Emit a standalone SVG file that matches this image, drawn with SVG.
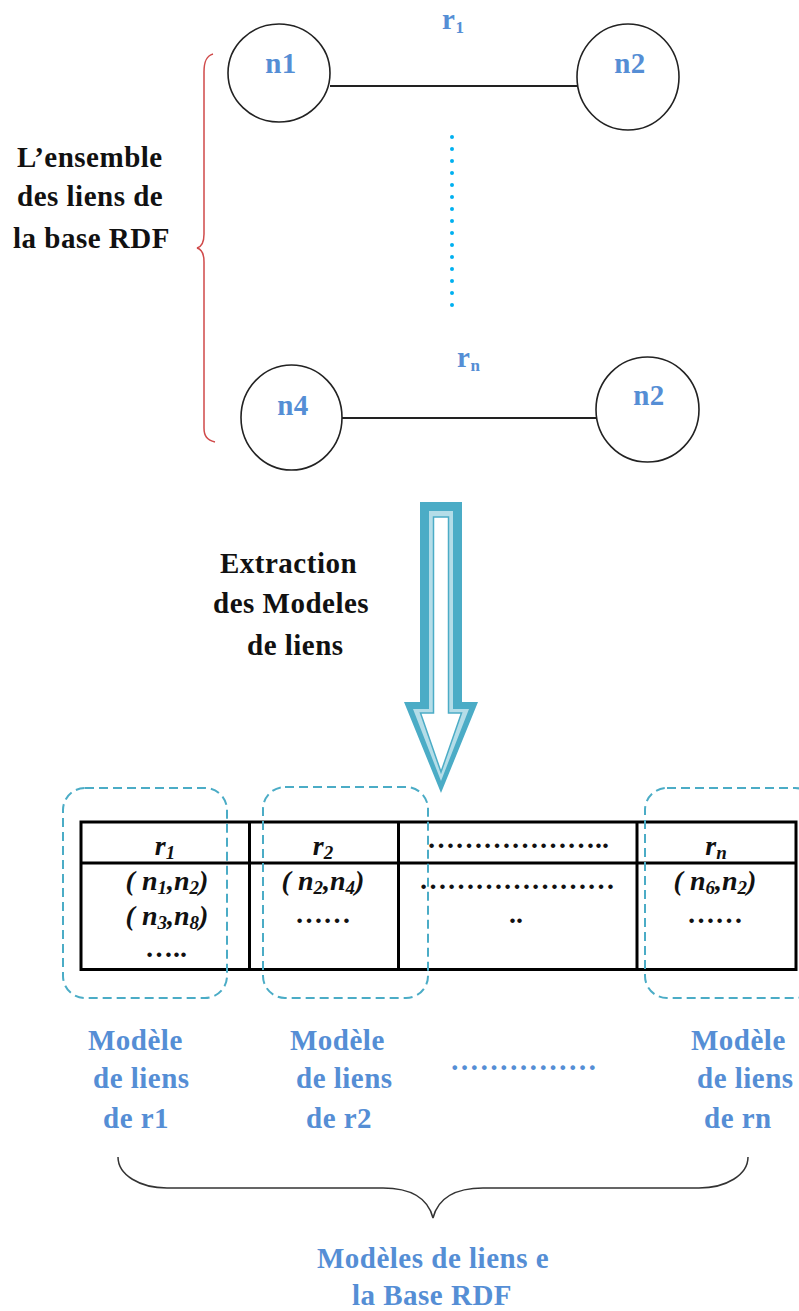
<svg xmlns="http://www.w3.org/2000/svg" width="799" height="1311" viewBox="0 0 799 1311">
  <style>
    .bg { fill: #ffffff; }
    .node { fill: none; stroke: #222222; stroke-width: 1.6; }
    .edge { stroke: #222222; stroke-width: 1.8; fill: none; }
    .lbl { font-family: "Liberation Serif", "Times New Roman", serif; font-weight: bold; font-size: 29px; letter-spacing: 0.5px; }
    .blue { fill: #558ED5; }
    .dark { fill: #111111; }
    .cell { font-family: "Liberation Serif", "Times New Roman", serif; font-weight: bold; font-style: italic; font-size: 28px; fill: #111111; }
    .dots { font-family: "Liberation Serif", "Times New Roman", serif; font-weight: bold; font-size: 28px; fill: #111111; }
    .grid { stroke: #000000; stroke-width: 3; fill: none; }
    .group { fill: none; stroke: #4BACC6; stroke-width: 2; stroke-dasharray: 9 5; }
    .brace { fill: none; stroke-width: 1.5; }
  </style>

  <rect class="bg" x="0" y="0" width="799" height="1311"/>

  <!-- connectors: relation edges, dotted continuation -->
  <g id="connectors">
    <line class="edge" x1="330" y1="86" x2="577" y2="86"/>
    <line class="edge" x1="342" y1="418" x2="597" y2="418"/>
    <line x1="452" y1="137" x2="452" y2="307" stroke="#00B0F0" stroke-width="4" stroke-linecap="round" stroke-dasharray="0 12"/>
  </g>

  <!-- first relation r1 -->
  <g id="node-n1">
    <ellipse class="node" cx="279" cy="73" rx="51" ry="49"/>
    <text class="lbl blue" x="281" y="73" text-anchor="middle">n1</text>
  </g>
  <g id="node-n2-top">
    <ellipse class="node" cx="628" cy="77" rx="51" ry="53"/>
    <text class="lbl blue" x="630" y="73" text-anchor="middle">n2</text>
  </g>
  <g id="label-r1">
    <text class="lbl blue" x="442" y="29">r<tspan font-size="17" dy="4">1</tspan></text>
  </g>

  <!-- last relation rn -->
  <g id="node-n4">
    <ellipse class="node" cx="291.5" cy="417.5" rx="50.5" ry="52.5"/>
    <text class="lbl blue" x="293" y="415" text-anchor="middle">n4</text>
  </g>
  <g id="node-n2-bottom">
    <ellipse class="node" cx="647.5" cy="409.5" rx="51.5" ry="52.5"/>
    <text class="lbl blue" x="649" y="405" text-anchor="middle">n2</text>
  </g>
  <g id="label-rn">
    <text class="lbl blue" x="457" y="367">r<tspan font-size="17" dy="4">n</tspan></text>
  </g>

  <!-- left brace and its caption -->
  <g id="set-of-links">
    <path class="brace" stroke="#D04A4A" d="M213,54 C206,56 204,62 204,72 L204,234 C204,243 201,247 197,248 C201,249 204,253 204,262 L204,428 C204,436 207,440 215,442"/>
    <text class="lbl dark" x="17" y="167">L’ensemble</text>
    <text class="lbl dark" x="17" y="206">des liens de</text>
    <text class="lbl dark" x="13" y="248">la base RDF</text>
  </g>

  <!-- extraction arrow -->
  <g id="extraction">
    <polygon fill="#4BACC6" points="420,502 462,502 462,702 478,702 441,793 404,702 420,702"/>
    <polygon fill="#B4DDE8" points="429,511 453,511 453,709 469,709 441,781 413,709 429,709"/>
    <polygon fill="#ffffff" stroke="#4BACC6" stroke-width="1.5" points="433.5,517 448.5,517 448.5,713 461.5,713 441,772 420.5,713 433.5,713"/>
    <text class="lbl dark" x="220" y="573">Extraction</text>
    <text class="lbl dark" x="213" y="613">des Modeles</text>
    <text class="lbl dark" x="247" y="655">de liens</text>
  </g>

  <!-- table of link models -->
  <g id="table">
    <rect class="grid" x="81" y="822" width="715" height="147.5"/>
    <line class="grid" x1="81" y1="863" x2="796" y2="863"/>
    <line class="grid" x1="249.5" y1="822" x2="249.5" y2="969.5"/>
    <line class="grid" x1="398.5" y1="822" x2="398.5" y2="969.5"/>
    <line class="grid" x1="637" y1="822" x2="637" y2="969.5"/>

    <text class="cell" x="165" y="855" text-anchor="middle">r<tspan font-size="19" dy="4">1</tspan></text>
    <text class="cell" x="323" y="855" text-anchor="middle">r<tspan font-size="19" dy="4">2</tspan></text>
    <text class="dots" x="518" y="848" text-anchor="middle">………………..</text>
    <text class="cell" x="716" y="855" text-anchor="middle">r<tspan font-size="19" dy="4">n</tspan></text>

    <text class="cell" x="167" y="890" text-anchor="middle">( n<tspan font-size="19" dy="4">1</tspan><tspan dy="-4">,n</tspan><tspan font-size="19" dy="4">2</tspan><tspan dy="-4">)</tspan></text>
    <text class="cell" x="167" y="925" text-anchor="middle">( n<tspan font-size="19" dy="4">3</tspan><tspan dy="-4">,n</tspan><tspan font-size="19" dy="4">8</tspan><tspan dy="-4">)</tspan></text>
    <text class="dots" x="166" y="957" text-anchor="middle">…..</text>

    <text class="cell" x="323" y="890" text-anchor="middle">( n<tspan font-size="19" dy="4">2</tspan><tspan dy="-4">,n</tspan><tspan font-size="19" dy="4">4</tspan><tspan dy="-4">)</tspan></text>
    <text class="dots" x="323" y="923" text-anchor="middle">……</text>

    <text class="dots" x="517" y="889" text-anchor="middle">…………………</text>
    <text class="dots" x="516" y="923" text-anchor="middle">..</text>

    <text class="cell" x="715" y="890" text-anchor="middle">( n<tspan font-size="19" dy="4">6</tspan><tspan dy="-4">,n</tspan><tspan font-size="19" dy="4">2</tspan><tspan dy="-4">)</tspan></text>
    <text class="dots" x="715" y="923" text-anchor="middle">……</text>
  </g>

  <!-- dashed outlines marking each relation column -->
  <g id="model-r1">
    <rect class="group" x="63" y="788" width="164" height="210" rx="22" ry="22"/>
    <text class="lbl blue" x="88" y="1050">Modèle</text>
    <text class="lbl blue" x="93" y="1088">de liens</text>
    <text class="lbl blue" x="103" y="1128">de r1</text>
  </g>
  <g id="model-r2">
    <rect class="group" x="263" y="787" width="165" height="211" rx="22" ry="22"/>
    <text class="lbl blue" x="290" y="1050">Modèle</text>
    <text class="lbl blue" x="296" y="1088">de liens</text>
    <text class="lbl blue" x="306" y="1128">de r2</text>
  </g>
  <g id="model-more">
    <text class="lbl blue" x="450" y="1070">……………</text>
  </g>
  <g id="model-rn">
    <rect class="group" x="645" y="788" width="172" height="210" rx="22" ry="22"/>
    <text class="lbl blue" x="691" y="1050">Modèle</text>
    <text class="lbl blue" x="697" y="1088">de liens</text>
    <text class="lbl blue" x="704" y="1128">de rn</text>
  </g>

  <!-- bottom brace grouping all models -->
  <g id="all-models">
    <path class="brace" stroke="#333333" d="M118,1157 C118,1175 140,1188 167,1188 L383,1188 C410,1188 428,1198 433,1218 C438,1198 456,1188 483,1188 L699,1188 C726,1188 748,1175 748,1157"/>
    <text class="lbl blue" x="433" y="1268" text-anchor="middle">Modèles de liens e</text>
    <text class="lbl blue" x="432" y="1305" text-anchor="middle">la Base RDF</text>
  </g>
</svg>
